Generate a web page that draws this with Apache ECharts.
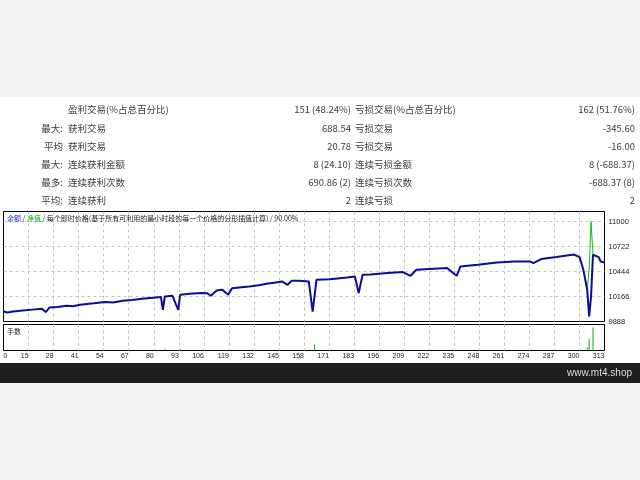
<!DOCTYPE html>
<html><head><meta charset="utf-8">
<script src="https://cdn.jsdelivr.net/npm/echarts@6/dist/echarts.min.js"></script>
<style>html,body{margin:0;padding:0;background:#fff}#c{width:640px;height:480px}</style>
</head><body><div id="c"></div>
<script>
// ---- table data ----
const rowPrefix = ['', '最大:', '平均', '最大:', '最多:', '平均:'];
const winLabels = ['盈利交易(%占总百分比)', '获利交易', '获利交易', '连续获利金额', '连续获利次数', '连续获利'];
const winValues = ['151 (48.24%)', '688.54', '20.78', '8 (24.10)', '690.86 (2)', '2'];
const lossLabels = ['亏损交易(%占总百分比)', '亏损交易', '亏损交易', '连续亏损金额', '连续亏损次数', '连续亏损'];
const lossValues = ['162 (51.76%)', '-345.60', '-16.00', '8 (-688.37)', '-688.37 (8)', '2'];

// ---- chart data ----
const tradeNo = [0,2,5,10,15,20,22,24,28,33,36,40,47,53,57,62,67,72,78,82,83,84,88,91,92,97,103,106,108,111,114,117,119,124,128,133,137,141,145,148,150,154,159,161,163,170,179,183,185,187,191,200,208,212,215,224,231,236,238,247,257,266,274,276,280,288,297,300,302,304,305,306,307,308,310,311,313];
const balance = [9999,9988,10000,10010,10020,10030,9993,10045,10050,10062,10058,10075,10090,10105,10100,10118,10128,10140,10152,10160,10018,10166,10174,10018,10185,10196,10204,10203,10174,10233,10240,10185,10259,10270,10277,10290,10307,10320,10333,10296,10340,10341,10333,9999,10352,10359,10377,10388,10204,10407,10410,10426,10437,10396,10463,10474,10482,10396,10500,10518,10544,10555,10556,10537,10582,10604,10633,10604,10463,10240,9944,10166,10630,10637,10604,10555,10544];
const equityTradeNo = [304, 305, 306, 307];
const equity = [10240, 10470, 11000, 10630];
const lotTradeNo = [84, 92, 162, 186, 304, 305, 307];
const lots = [0.04, 0.04, 0.16, 0.02, 0.09, 0.32, 0.62];

const xTickLabels = ['0','15','28','41','54','67','80','93','106','119','132','145','158','171','183','196','209','222','235','248','261','274','287','300','313'];
const yTickValues = [9888, 10166, 10444, 10722, 11000];
const chartTitle = ['余额', '净值', '每个即时价格(基于所有可利用的最小时段的每一个价格的分形插值计算)', '90.00%'];
const lotsTitle = '手数';
const footerText = 'www.mt4.shop';

// ---- build ----
const xMax = 313;
const xStep = xMax / (xTickLabels.length - 1);
const xAll = xTickLabels.map((_, k) => k * xStep);
const xInner = xAll.slice(1, -1);
const yInner = yTickValues.slice(1);

const FONT_CJK = '"Noto Sans CJK SC","Noto Sans",sans-serif';
const txtColor = '#3c3c3c';
const graphics = [
  { type: 'rect', shape: { x: 0, y: 0, width: 640, height: 97 }, style: { fill: '#f2f3f5' }, silent: true },
  { type: 'rect', shape: { x: 0, y: 363, width: 640, height: 20 }, style: { fill: '#1e1e1e' }, silent: true },
  { type: 'rect', shape: { x: 0, y: 383, width: 640, height: 97 }, style: { fill: '#f2f3f5' }, silent: true },
  { type: 'text', x: 632, y: 373, style: { text: footerText, fill: '#dcdcdc', font: '10px "Liberation Sans",Arial,sans-serif', align: 'right', verticalAlign: 'middle' } },
  { type: 'text', x: 7, y: 218, z: 100, style: {
      text: '{b|' + chartTitle[0] + '} / {g|' + chartTitle[1] + '} / ' + chartTitle[2] + ' / ' + chartTitle[3],
      fill: '#202020', font: '7px ' + FONT_CJK, verticalAlign: 'middle',
      rich: { b: { fill: '#2030c0', font: '7px ' + FONT_CJK }, g: { fill: '#10b010', font: '7px ' + FONT_CJK } } } },
  { type: 'text', x: 7, y: 331, z: 100, style: { text: lotsTitle, fill: '#202020', font: '7px ' + FONT_CJK, verticalAlign: 'middle' } }
];
for (let i = 0; i < rowPrefix.length; i++) {
  const y = 109.8 + 18.2 * i;
  const f = '9.5px ' + FONT_CJK;
  if (rowPrefix[i]) graphics.push({ type: 'text', x: 63, y, style: { text: rowPrefix[i], fill: txtColor, font: f, align: 'right', verticalAlign: 'middle' } });
  graphics.push({ type: 'text', x: 68, y, style: { text: winLabels[i], fill: txtColor, font: f, verticalAlign: 'middle' } });
  graphics.push({ type: 'text', x: 351, y, style: { text: winValues[i], fill: txtColor, font: f, align: 'right', verticalAlign: 'middle' } });
  graphics.push({ type: 'text', x: 355, y, style: { text: lossLabels[i], fill: txtColor, font: f, verticalAlign: 'middle' } });
  graphics.push({ type: 'text', x: 635, y, style: { text: lossValues[i], fill: txtColor, font: f, align: 'right', verticalAlign: 'middle' } });
}

const dashed = { show: true, lineStyle: { color: '#c4c4c4', type: [3, 3], width: 1 } };
const chart = echarts.init(document.getElementById('c'), null, { renderer: 'canvas' });
chart.setOption({
  animation: false,
  backgroundColor: 'transparent',
  graphic: { elements: graphics },
  grid: [
    { left: 3.5, right: 35.5, top: 211.5, height: 110, show: true, borderColor: '#000', borderWidth: 1, backgroundColor: '#fff' },
    { left: 3.5, right: 35.5, top: 324.5, height: 26, show: true, borderColor: '#000', borderWidth: 1, backgroundColor: '#fff' }
  ],
  xAxis: [
    { type: 'value', gridIndex: 0, min: 0, max: xMax, axisLine: { show: false },
      axisTick: { show: false, customValues: xInner }, axisLabel: { show: false }, splitLine: dashed },
    { type: 'value', gridIndex: 1, min: 0, max: xMax, axisLine: { show: false },
      axisTick: { show: false, customValues: xInner },
      axisLabel: { customValues: xAll, formatter: v => xTickLabels[Math.round(v / xStep)], fontSize: 7, color: '#202020',
        fontFamily: '"Liberation Sans",Arial,sans-serif', margin: 2, align: 'right', alignMinLabel: 'left', alignMaxLabel: 'right', hideOverlap: false },
      splitLine: dashed }
  ],
  yAxis: [
    { type: 'value', gridIndex: 0, position: 'right', min: 9888, max: 11111, axisLine: { show: false },
      axisTick: { show: false, customValues: yInner },
      axisLabel: { customValues: yTickValues, formatter: v => String(v), fontSize: 7.5, color: '#202020', fontFamily: '"Liberation Sans",Arial,sans-serif', margin: 4 },
      splitLine: dashed },
    { type: 'value', gridIndex: 1, position: 'right', min: 0, max: 0.7, axisLine: { show: false }, axisTick: { show: false },
      axisLabel: { show: false }, splitLine: { show: false } }
  ],
  series: [
    { type: 'line', name: '净值', xAxisIndex: 0, yAxisIndex: 0, showSymbol: false, z: 2,
      data: equityTradeNo.map((t, i) => [t, equity[i]]), lineStyle: { color: '#10c010', width: 1 } },
    { type: 'line', name: '余额', xAxisIndex: 0, yAxisIndex: 0, showSymbol: false, z: 3,
      data: tradeNo.map((t, i) => [t, balance[i]]), lineStyle: { color: '#0c0c9a', width: 2 } },
    { type: 'bar', name: '手数', xAxisIndex: 1, yAxisIndex: 1, barWidth: 1,
      data: lotTradeNo.map((t, i) => [t, lots[i]]), itemStyle: { color: '#10b010' } }
  ]
});
</script></body></html>
